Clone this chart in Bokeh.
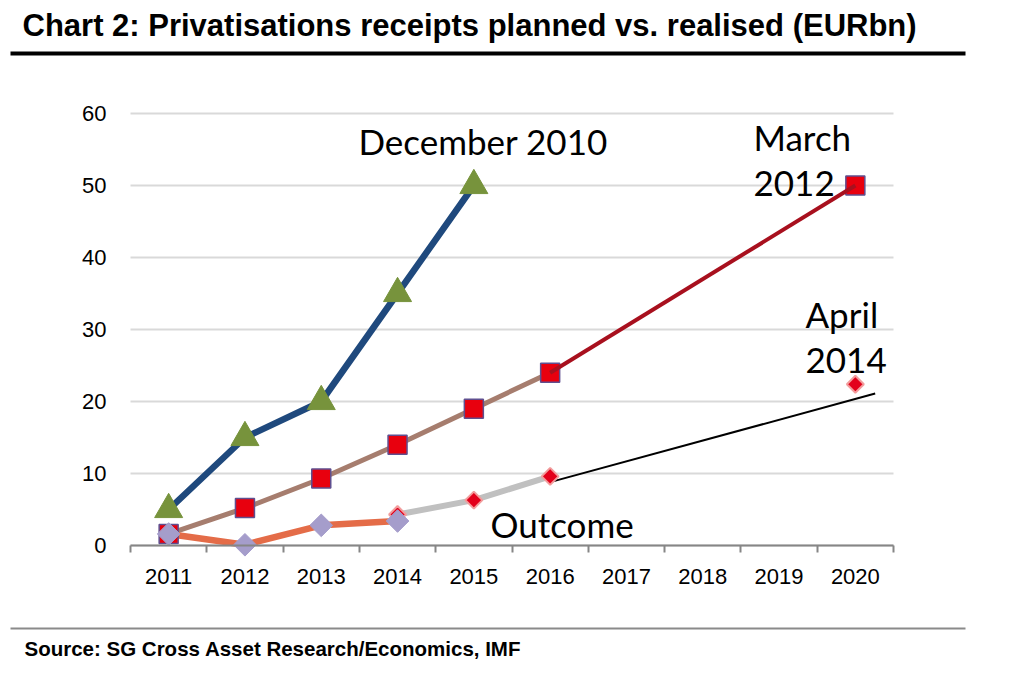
import numpy as np
from bokeh.plotting import figure
from bokeh.models import Range1d, FixedTicker, Label, BoxAnnotation
from bokeh.embed import file_html
from bokeh.resources import INLINE

# ---- data (EURbn) ----
years = [2011, 2012, 2013, 2014, 2015, 2016, 2017, 2018, 2019, 2020]
year_labels = ["2011", "2012", "2013", "2014", "2015", "2016", "2017", "2018", "2019", "2020"]
y_ticks = [0, 10, 20, 30, 40, 50, 60]

dec2010_years = [2011, 2012, 2013, 2014, 2015]
dec2010 = [5, 15, 20, 35, 50]

mar2012_years = [2011, 2012, 2013, 2014, 2015, 2016, 2020]
mar2012 = [1.6, 5.2, 9.3, 14.0, 19.0, 24.0, 50.0]

outcome_years = [2011, 2012, 2013, 2014]
outcome = [1.6, 0.1, 2.8, 3.4]

apr2014_years = [2014, 2015, 2016, 2020]
apr2014 = [4.3, 6.3, 9.6, 22.4]

trend_x = [2016, 2020.26]
trend_y = [8.8, 21.1]

# ---- layout (page pixels) ----
W, H = 1008, 666
PLOT_L, PLOT_R = 130, 893        # plot-area x extent in pixels
ZERO_Y, TOP_Y = 545, 113         # pixel rows of y=0 and y=60
XS = (PLOT_R - PLOT_L) / len(years)
YS = (ZERO_Y - TOP_Y) / 60.0
X0 = years[0] - 0.5


def X(px):
    return X0 + (px - PLOT_L) / XS


def Y(py):
    return (ZERO_Y - py) / YS


p = figure(width=W, height=H, output_backend="svg", toolbar_location=None,
           x_range=Range1d(X(0), X(W)), y_range=Range1d(Y(H), Y(0)),
           min_border=0, title=None)
p.outline_line_color = None
p.background_fill_color = "white"
p.border_fill_color = "white"
p.xgrid.visible = False
p.ygrid.visible = False

# horizontal gridlines across the plot area
p.segment(x0=[X0] * len(y_ticks), x1=[years[-1] + 0.5] * len(y_ticks),
          y0=y_ticks, y1=y_ticks, line_color="#d9d9d9", line_width=2)

# x axis: labels at category centres, tick marks between categories
xa = p.xaxis[0]
xa.ticker = FixedTicker(ticks=years, minor_ticks=[y - 0.5 for y in years] + [years[-1] + 0.5])
xa.major_label_overrides = {y: l for y, l in zip(years, year_labels)}
xa.fixed_location = 0
xa.bounds = (X0, years[-1] + 0.5)
xa.axis_line_color = "#868686"
xa.axis_line_width = 2
xa.major_tick_line_color = None
xa.major_tick_out = 0
xa.major_tick_in = 0
xa.minor_tick_line_color = "#868686"
xa.minor_tick_line_width = 2
xa.minor_tick_out = 7
xa.minor_tick_in = 0
xa.major_label_standoff = 16
xa.major_label_text_font = "Liberation Sans"
xa.major_label_text_font_size = "22px"
xa.major_label_text_color = "black"

ya = p.yaxis[0]
ya.ticker = FixedTicker(ticks=y_ticks)
ya.fixed_location = X0
ya.bounds = (0, 60)
ya.axis_line_color = None
ya.major_tick_line_color = None
ya.minor_tick_line_color = None
ya.major_tick_out = 0
ya.major_label_standoff = 24
ya.major_label_text_font = "Liberation Sans"
ya.major_label_text_font_size = "22px"
ya.major_label_text_color = "black"

# ---- series ----
p.line(dec2010_years, dec2010, line_color="#1F497D", line_width=6.5)
p.line(mar2012_years[:6], mar2012[:6], line_color="#A67D6E", line_width=5)
p.line(apr2014_years[:3], apr2014[:3], line_color="#C0C0C0", line_width=6)
p.line(outcome_years, outcome, line_color="#E46C48", line_width=6.5)
p.line(trend_x, trend_y, line_color="black", line_width=2)

p.scatter(dec2010_years, dec2010, marker="triangle", size=28,
          fill_color="#77933C", line_color="#77933C")
p.scatter(mar2012_years, mar2012, marker="square", size=19,
          fill_color="#E8000E", line_color="#5F4F8F", line_width=1.5)
p.line(mar2012_years[5:], mar2012[5:], line_color="#A8101E", line_width=4)
p.scatter(apr2014_years, apr2014, marker="square", angle=np.pi / 4, size=12,
          fill_color="#E3001B", line_color="#F29C9C", line_width=2)
p.scatter(outcome_years, outcome, marker="square", angle=np.pi / 4, size=16,
          fill_color="#A59DCB", line_color="#A59DCB")

# ---- series annotations (left x, baseline y in pixels) ----
for txt, px, py in [("December 2010", 358, 140), ("March", 753, 136),
                    ("2012", 753, 183), ("April", 805, 313),
                    ("2014", 805, 360), ("Outcome", 490, 523)]:
    p.add_layout(Label(x=X(px), y=Y(py), text=txt, text_font="Lato", text_font_size="35px",
                       text_color="black", text_baseline="alphabetic", text_align="left"))

# ---- title, rules, source ----
p.add_layout(Label(x=X(22), y=Y(25),
                   text="Chart 2: Privatisations receipts planned vs. realised (EURbn)",
                   text_font="Liberation Sans", text_font_style="bold", text_font_size="31px",
                   text_color="black", text_baseline="middle", text_align="left"))
p.add_layout(BoxAnnotation(left=X(10), right=X(965), top=Y(51), bottom=Y(55),
                           fill_color="black", fill_alpha=1, line_color=None))
p.add_layout(BoxAnnotation(left=X(10), right=X(965), top=Y(627), bottom=Y(629),
                           fill_color="#8a8a8a", fill_alpha=1, line_color=None))
p.add_layout(Label(x=X(24), y=Y(648),
                   text="Source: SG Cross Asset Research/Economics, IMF",
                   text_font="Liberation Sans", text_font_style="bold", text_font_size="20.5px",
                   text_color="black", text_baseline="middle", text_align="left"))

open("out.html", "w").write(file_html(p, INLINE))
